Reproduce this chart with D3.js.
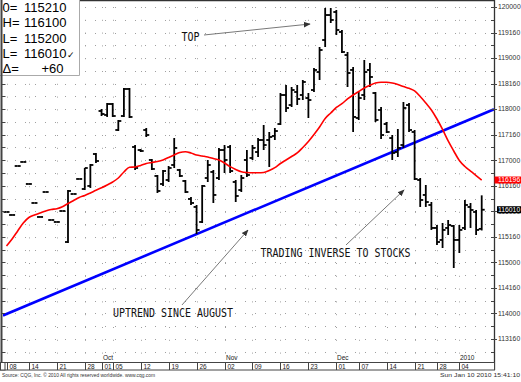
<!DOCTYPE html>
<html><head><meta charset="utf-8">
<script src="https://cdn.jsdelivr.net/npm/d3@7"></script>
<style>body{margin:0;background:#fff;overflow:hidden}svg{display:block}</style>
</head><body>
<svg id="c" width="521" height="382"></svg>
<script>
// ---------- DATA ----------
const dates = [
"2009-09-08","2009-09-09","2009-09-10","2009-09-11","2009-09-14","2009-09-15","2009-09-16","2009-09-17","2009-09-18",
"2009-09-21","2009-09-22","2009-09-23","2009-09-24","2009-09-25","2009-09-28","2009-09-29","2009-09-30",
"2009-10-01","2009-10-02","2009-10-05","2009-10-06","2009-10-07","2009-10-08","2009-10-09","2009-10-12","2009-10-13",
"2009-10-14","2009-10-15","2009-10-16","2009-10-19","2009-10-20","2009-10-21","2009-10-22","2009-10-23","2009-10-26",
"2009-10-27","2009-10-28","2009-10-29","2009-10-30",
"2009-11-02","2009-11-03","2009-11-04","2009-11-05","2009-11-06","2009-11-09","2009-11-10","2009-11-11","2009-11-12",
"2009-11-13","2009-11-16","2009-11-17","2009-11-18","2009-11-19","2009-11-20","2009-11-23","2009-11-24","2009-11-25",
"2009-11-27","2009-11-30",
"2009-12-01","2009-12-02","2009-12-03","2009-12-04","2009-12-07","2009-12-08","2009-12-09","2009-12-10","2009-12-11",
"2009-12-14","2009-12-15","2009-12-16","2009-12-17","2009-12-18","2009-12-21","2009-12-22","2009-12-23","2009-12-24",
"2009-12-28","2009-12-29","2009-12-30","2009-12-31",
"2010-01-04","2010-01-05","2010-01-06","2010-01-07","2010-01-08"];

const open = [115.987,115.928,116.887,116.966,116.535,116.163,115.889,116.378,115.830,115.791,116.006,
115.399,116.339,116.633,116.437,116.496,117.122,117.964,117.886,118.101,117.592,117.866,118.395,117.259,117.200,
117.592,117.005,116.692,116.535,116.613,116.907,116.809,116.594,116.241,116.085,115.791,116.652,116.770,116.652,
117.200,117.259,116.574,116.417,117.005,117.044,117.161,117.396,117.396,117.475,117.709,118.277,118.081,118.336,
118.277,118.218,118.375,118.727,119.354,119.843,119.902,119.511,119.060,118.767,117.827,118.277,118.767,118.316,
117.984,117.709,117.435,117.161,117.298,118.081,117.553,116.613,116.320,116.124,115.674,115.439,115.674,115.713,
115.439,115.674,116.085,115.987,115.65625];

const high = [115.987,115.928,116.887,116.966,116.535,116.163,115.889,116.378,115.830,115.791,116.006,
116.417,116.339,116.633,116.848,116.926,117.142,118.003,118.121,118.121,117.788,118.414,118.414,117.298,117.220,
117.631,117.024,116.711,116.809,116.887,117.435,116.829,116.613,116.280,116.124,116.515,117.005,116.809,117.240,
117.298,117.298,116.613,116.711,117.200,117.298,117.435,117.690,117.553,117.631,118.316,118.473,118.434,118.473,
118.571,118.316,118.806,119.217,119.980,119.980,119.941,119.550,119.119,118.825,118.336,118.962,118.904,118.336,
118.042,117.749,117.494,117.612,118.140,118.121,117.592,116.652,116.515,116.182,115.732,115.771,115.830,115.732,
115.732,116.222,116.163,116.026,116.3125];

const low = [115.987,115.928,116.887,116.966,116.535,116.163,115.889,116.378,115.830,115.791,116.006,
115.380,116.339,116.633,116.417,116.457,116.946,117.866,117.847,117.847,117.572,117.847,117.827,116.809,117.161,
117.455,116.809,116.359,116.496,116.574,116.848,116.672,116.359,116.124,115.556,115.771,116.574,116.163,116.613,
116.750,116.750,116.182,116.378,116.672,117.005,117.063,117.200,116.868,117.396,117.690,117.944,118.042,118.081,
118.179,117.827,118.336,118.571,119.217,119.687,119.452,119.099,118.434,117.553,117.788,118.179,118.434,117.749,
117.416,117.533,117.005,117.063,117.240,117.553,116.613,116.085,116.085,115.635,115.341,115.282,115.536,114.890,
115.184,115.635,115.674,115.536,115.625];

const close = [115.987,115.928,116.887,116.966,116.535,116.163,115.889,116.378,115.830,115.791,116.006,
116.398,116.339,116.633,116.848,116.907,116.985,117.905,118.101,117.866,117.768,118.395,117.847,116.848,117.181,
117.494,116.829,116.398,116.789,116.848,117.240,116.692,116.378,116.163,115.635,116.496,116.907,116.320,117.200,
117.005,116.789,116.300,116.652,116.711,117.240,117.396,117.298,117.455,117.572,118.277,118.023,118.375,118.199,
118.532,118.179,118.767,119.158,119.843,119.746,119.550,119.119,118.708,117.847,118.218,118.727,118.630,117.788,
117.494,117.553,117.142,117.240,118.023,117.592,116.633,116.222,116.182,115.674,115.399,115.635,115.732,115.439,
115.635,116.124,116.026,115.635,116.03125];

const movingAvg = [115.321,115.458,115.615,115.771,115.879,115.928,115.967,116.006,116.036,116.051,116.089,
116.153,116.212,116.271,116.310,116.359,116.412,116.460,116.515,116.574,116.652,116.770,116.862,116.868,116.897,
116.936,116.956,116.975,117.005,117.054,117.103,117.152,117.167,117.142,117.103,117.083,117.063,117.034,117.005,
116.946,116.874,116.819,116.774,116.760,116.756,116.756,116.760,116.799,116.854,116.936,117.005,117.073,117.142,
117.249,117.367,117.504,117.651,117.817,117.925,118.033,118.107,118.199,118.277,118.346,118.414,118.467,118.512,
118.526,118.526,118.512,118.483,118.444,118.408,118.356,118.248,118.121,117.984,117.807,117.602,117.377,117.181,
116.995,116.877,116.789,116.701,116.6125];

const trendDates  = ["2009-09-08","2010-01-08"];
const trendValues = [113.990, 117.897];

const priceTickValues = [113.5,114,114.5,115,115.5,116,116.5,117,117.5,118,118.5,119,119.5,120];
const dateTickDates  = ["2009-09-08","2009-09-14","2009-09-21","2009-09-28","2009-10-01","2009-10-05","2009-10-12",
"2009-10-19","2009-10-26","2009-11-02","2009-11-09","2009-11-16","2009-11-23","2009-12-01","2009-12-07","2009-12-14",
"2009-12-21","2009-12-28","2010-01-04"];
const dateTickLabels = ["08","14","21","28","01","05","12","19","26","02","09","16","23","01","07","14","21","28","04"];
const monthDates  = ["2009-10-01","2009-11-02","2009-12-01","2010-01-04"];
const monthLabels = ["Oct","Nov","Dec","2010"];

const infoLabels = ["0=","H=","L=","L=","\u0394="];
const infoValues = ["115210","116100","115200","116010","+60"];

// annotations: text anchor & arrow in (bar index, price)
const annotations = [
  {text:"TOP", tx:31.30, tp:119.344, ax1:35.33, ap1:119.452, ax2:54.29, ap2:119.667, w:18},
  {text:"UPTREND SINCE AUGUST", tx:19.05, tp:113.921, ax1:31.39, ap1:114.166, ax2:43.2, ap2:115.634, w:120},
  {text:"TRADING INVERSE TO STOCKS", tx:45.43, tp:115.106, ax1:60.73, ap1:115.341, ax2:71.11, ap2:116.417, w:150}
];
const sourceText = "Source: CQG, Inc. \u00a9 2010 All rights reserved worldwide. www.cqg.com";
const stampText = "Sun Jan 10 2010 15:41:10";

// ---------- DRAW ----------
const svg = d3.select("#c");
const P = {l:3, r:494, t:1, b:362};
const xi = d3.scaleLinear().domain([0, dates.length-1]).range([6.5, 481.7]);
const x = d => xi(dates.indexOf(d));
const y = d3.scaleLinear().domain([113.5, 120]).range([339, 7]);
const fmt = p => { const n = Math.floor(p + 1e-9); const f = Math.round((p - n) * 320); return n + String(f).padStart(3, "0"); };

svg.append("rect").attr("width",521).attr("height",382).attr("fill","#fff");
svg.append("defs").append("clipPath").attr("id","pc").append("rect")
  .attr("x",P.l).attr("y",P.t).attr("width",P.r-P.l).attr("height",P.b-P.t);
svg.select("defs").append("marker").attr("id","ah").attr("viewBox","0 0 10 10").attr("refX",9).attr("refY",5)
  .attr("markerWidth",7).attr("markerHeight",7).attr("orient","auto-start-reverse").attr("markerUnits","userSpaceOnUse")
  .append("path").attr("d","M0,1L10,5L0,9z").attr("fill","#333");

// grid
const gridRows = d3.range(113.25, 120.001, 0.25);
svg.append("g").selectAll("line").data(gridRows).join("line")
  .attr("x1",P.l+2).attr("x2",P.r).attr("y1",d=>Math.round(y(d))+0.5).attr("y2",d=>Math.round(y(d))+0.5)
  .attr("stroke","#a0a0a0").attr("stroke-width",1).attr("stroke-dasharray","1,9");
svg.append("g").selectAll("line").data(dateTickDates).join("line")
  .attr("x1",d=>Math.round(x(d))+0.5).attr("x2",d=>Math.round(x(d))+0.5).attr("y1",P.t+6).attr("y2",P.b)
  .attr("stroke","#a0a0a0").attr("stroke-width",1).attr("stroke-dasharray","1,11.8");

// trend line (blue), extended to plot edges
const tx0 = xi(dates.indexOf(trendDates[0])), tx1 = xi(dates.indexOf(trendDates[1]));
const ty0 = y(trendValues[0]), ty1 = y(trendValues[1]);
const slope = (ty1-ty0)/(tx1-tx0);
svg.append("line").attr("clip-path","url(#pc)")
  .attr("x1",P.l).attr("y1",ty0 + slope*(P.l-tx0)).attr("x2",P.r).attr("y2",ty0 + slope*(P.r-tx0))
  .attr("stroke","#0000ff").attr("stroke-width",2.6);

// OHLC bars
const bars = dates.map((d,i)=>({d, o:open[i], h:high[i], l:low[i], c:close[i]}));
const gb = svg.append("g").attr("stroke","#000").attr("stroke-width",1.8).attr("fill","none");
gb.selectAll("line.v").data(bars).join("line").attr("class","v")
  .attr("x1",b=>x(b.d)).attr("x2",b=>x(b.d)).attr("y1",b=>y(b.h)).attr("y2",b=>y(b.l));
gb.selectAll("line.o").data(bars).join("line").attr("class","o")
  .attr("x1",b=>x(b.d)-3).attr("x2",b=>x(b.d)).attr("y1",b=>y(b.o)).attr("y2",b=>y(b.o));
gb.selectAll("line.c").data(bars).join("line").attr("class","c")
  .attr("x1",b=>x(b.d)).attr("x2",b=>x(b.d)+3).attr("y1",b=>y(b.c)).attr("y2",b=>y(b.c));

// moving average (red)
svg.append("path").attr("clip-path","url(#pc)")
  .datum(dates.map((d,i)=>[x(d), y(movingAvg[i])]))
  .attr("d", d3.line().curve(d3.curveMonotoneX))
  .attr("fill","none").attr("stroke","#ff0000").attr("stroke-width",1.6);

// annotations
const ga = svg.append("g");
annotations.forEach(a=>{
  ga.append("line").attr("x1",xi(a.ax1)).attr("y1",y(a.ap1)).attr("x2",xi(a.ax2)).attr("y2",y(a.ap2))
    .attr("stroke","#555").attr("stroke-width",0.8).attr("marker-end","url(#ah)");
  ga.append("text").attr("x",xi(a.tx)).attr("y",y(a.tp)).text(a.text)
    .attr("font-family","DejaVu Sans Mono, monospace").attr("font-size",12).attr("fill","#111")
    .attr("textLength",a.w).attr("lengthAdjust","spacingAndGlyphs");
});

// frame / axes
svg.append("line").attr("x1",0).attr("x2",P.r).attr("y1",0.5).attr("y2",0.5).attr("stroke","#333").attr("stroke-width",1.5);
svg.append("line").attr("x1",1.5).attr("x2",1.5).attr("y1",0).attr("y2",P.b).attr("stroke","#444").attr("stroke-width",2);
svg.append("g").selectAll("line").data(gridRows).join("line")
  .attr("x1",2).attr("x2",5).attr("y1",d=>Math.round(y(d))+0.5).attr("y2",d=>Math.round(y(d))+0.5)
  .attr("stroke","#444");
svg.append("line").attr("x1",P.r+0.5).attr("x2",P.r+0.5).attr("y1",0).attr("y2",370).attr("stroke","#333").attr("stroke-width",1.3);
svg.append("g").selectAll("line").data(gridRows).join("line")
  .attr("x1",P.r-3).attr("x2",P.r).attr("y1",d=>Math.round(y(d))+0.5).attr("y2",d=>Math.round(y(d))+0.5)
  .attr("stroke","#444");
svg.append("g").selectAll("line").data(priceTickValues).join("line")
  .attr("x1",P.r).attr("x2",P.r+3).attr("y1",d=>Math.round(y(d))+0.5).attr("y2",d=>Math.round(y(d))+0.5)
  .attr("stroke","#444");
svg.append("g").selectAll("text").data(priceTickValues).join("text")
  .attr("x",498).attr("y",d=>y(d)+2.3).text(fmt)
  .attr("font-family","Liberation Sans, Arial, sans-serif").attr("font-size",6.8).attr("fill","#333");

// last value boxes
[[movingAvg[movingAvg.length-1],"#ff0000",494.5],[close[close.length-1],"#000",497]].forEach(([v,col,x0])=>{
  svg.append("rect").attr("x",x0).attr("y",y(v)-3.5).attr("width",521-x0).attr("height",7).attr("fill",col);
  svg.append("text").attr("x",498).attr("y",y(v)+2.4).text(fmt(v))
    .attr("font-family","Liberation Sans, Arial, sans-serif").attr("font-size",6.8).attr("fill","#fff");
});

// date strip
svg.append("rect").attr("x",0.5).attr("y",362.5).attr("width",P.r).attr("height",7.5)
  .attr("fill","#fff").attr("stroke","#444").attr("stroke-width",1);
svg.append("rect").attr("x",0.5).attr("y",362.5).attr("width",4.5).attr("height",7.5).attr("fill","#fff").attr("stroke","#444");
svg.append("g").selectAll("line").data(dateTickDates).join("line")
  .attr("x1",d=>Math.round(x(d))+0.5).attr("x2",d=>Math.round(x(d))+0.5).attr("y1",362.5).attr("y2",370)
  .attr("stroke","#444");
svg.append("g").selectAll("text").data(dateTickDates).join("text")
  .attr("x",d=>Math.round(x(d))+2.5).attr("y",368.6).text((d,i)=>dateTickLabels[i])
  .attr("font-family","Liberation Sans, Arial, sans-serif").attr("font-size",6.5).attr("fill","#222");
svg.append("g").selectAll("text").data(monthDates).join("text")
  .attr("x",d=>Math.round(x(d))+1).attr("y",359.5).text((d,i)=>monthLabels[i])
  .attr("font-family","Liberation Sans, Arial, sans-serif").attr("font-size",6.5).attr("fill","#222");

// footer
svg.append("text").attr("x",2).attr("y",377).text(sourceText)
  .attr("font-family","Liberation Sans, Arial, sans-serif").attr("font-size",5.2).attr("fill","#333")
  .attr("textLength",153).attr("lengthAdjust","spacingAndGlyphs");
svg.append("text").attr("x",440).attr("y",377).text(stampText)
  .attr("font-family","Liberation Sans, Arial, sans-serif").attr("font-size",5.6).attr("fill","#333")
  .attr("textLength",80).attr("lengthAdjust","spacingAndGlyphs");

// info box
svg.append("rect").attr("x",0).attr("y",0).attr("width",79.5).attr("height",75.5).attr("fill","#fff");
svg.append("path").attr("d","M79.5,0V75.5H0").attr("fill","none").attr("stroke","#aaa");
svg.append("line").attr("x1",1.5).attr("x2",1.5).attr("y1",0).attr("y2",76).attr("stroke","#444").attr("stroke-width",2);
const gi = svg.append("g").attr("font-family","Liberation Sans, Arial, sans-serif").attr("font-size",13).attr("fill","#000");
infoLabels.forEach((lab,i)=>{
  const by = 11.7 + i*15.4;
  gi.append("text").attr("x",2.5).attr("y",by).text(lab);
  if (i === 4) gi.append("text").attr("x",63.5).attr("y",by).attr("text-anchor","end").text(infoValues[i]);
  else {
    const t = gi.append("text").attr("x",24).attr("y",by).text(infoValues[i]);
    if (i === 3) t.append("tspan").attr("font-size",9).attr("dx",0.5).text("\u2713");
  }
});
</script>
</body></html>
